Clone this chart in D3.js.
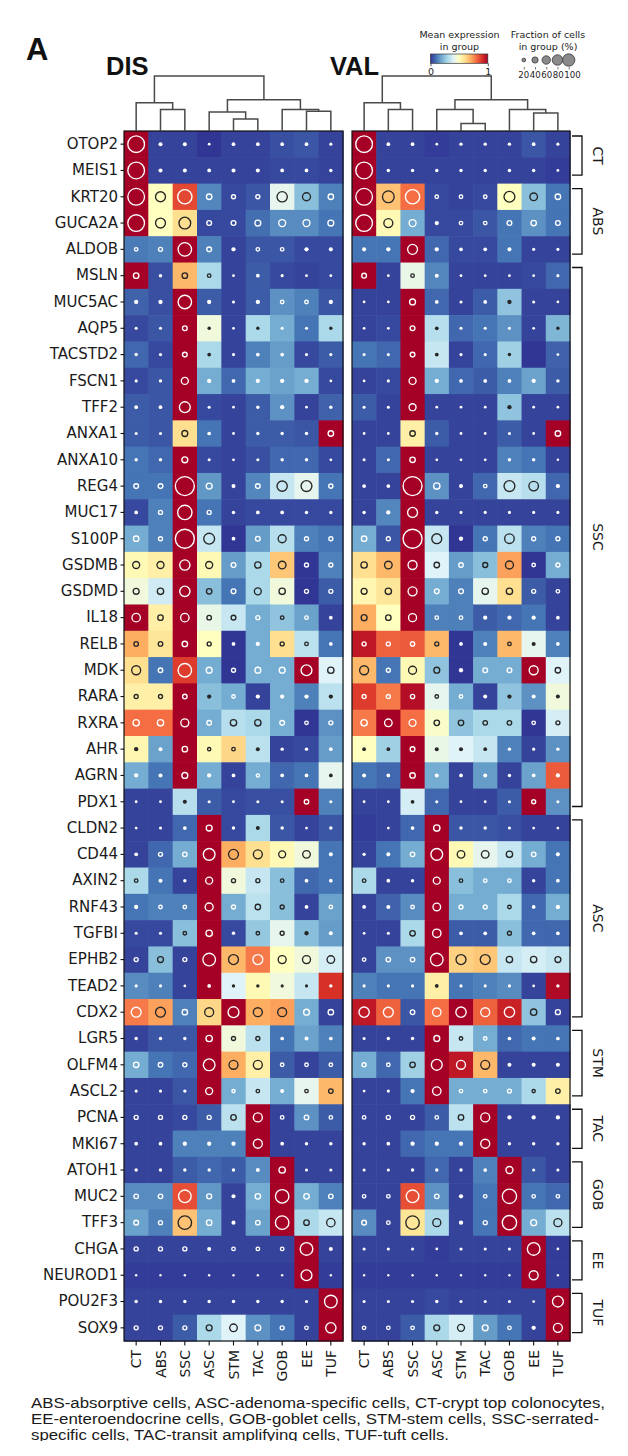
<!DOCTYPE html>
<html><head><meta charset="utf-8">
<script src="https://cdn.jsdelivr.net/npm/d3@7"></script>
<style>body{margin:0;background:#fff}</style>
</head><body>
<svg id="chart" width="628" height="1456" xmlns="http://www.w3.org/2000/svg"></svg>
<script>
// ---------------- DATA ----------------
const genes = ["OTOP2","MEIS1","KRT20","GUCA2A","ALDOB","MSLN","MUC5AC","AQP5","TACSTD2","FSCN1","TFF2","ANXA1","ANXA10","REG4","MUC17","S100P","GSDMB","GSDMD","IL18","RELB","MDK","RARA","RXRA","AHR","AGRN","PDX1","CLDN2","CD44","AXIN2","RNF43","TGFBI","EPHB2","TEAD2","CDX2","LGR5","OLFM4","ASCL2","PCNA","MKI67","ATOH1","MUC2","TFF3","CHGA","NEUROD1","POU2F3","SOX9"];
const cellTypes = ["CT","ABS","SSC","ASC","STM","TAC","GOB","EE","TUF"];
const groupLabels = ["CT","ABS","SSC","ASC","STM","TAC","GOB","EE","TUF"];
const groupFirst = ["OTOP2","KRT20","MSLN","CLDN2","LGR5","PCNA","ATOH1","CHGA","POU2F3"];
const groupLast  = ["MEIS1","ALDOB","PDX1","CDX2","ASCL2","MKI67","TFF3","NEUROD1","SOX9"];
const panelTitles = ["DIS","VAL"];

// mean expression (scaled 0-1), DIS
const disExpr = [
[1,0.02,0.02,0,0.02,0.02,0.04,0.05,0.02],
[1,0.02,0.02,0.02,0.02,0.02,0.03,0.03,0.02],
[1,0.5,0.86,0.13,0.03,0.05,0.42,0.24,0.12],
[1,0.5,0.6,0.03,0.03,0.09,0.14,0.14,0.1],
[0.11,0.12,1,0.12,0.02,0.05,0.05,0.03,0.03],
[1,0.04,0.68,0.3,0.02,0.06,0.03,0.02,0.03],
[0.07,0.04,1,0.06,0.02,0.06,0.15,0.12,0.05],
[0.03,0.05,1,0.45,0.02,0.3,0.2,0.1,0.3],
[0.08,0.03,1,0.3,0.02,0.12,0.17,0.03,0.06],
[0.03,0.05,1,0.2,0.08,0.2,0.18,0.2,0.03],
[0.06,0.05,1,0.03,0.02,0.06,0.15,0.02,0.07],
[0.06,0.05,0.6,0.1,0.02,0.06,0.06,0.05,1],
[0.1,0.08,1,0.03,0.02,0.04,0.08,0.08,0.03],
[0.1,0.1,1,0.16,0.02,0.13,0.35,0.42,0.1],
[0.03,0.12,1,0.1,0.02,0.03,0.03,0.03,0.03],
[0.2,0.12,1,0.35,0,0.17,0.32,0.12,0.1],
[0.52,0.55,1,0.52,0.17,0.3,0.65,0,0.12],
[0.45,0.37,1,0.24,0.1,0.3,0.45,0,0.06],
[1,0.55,1,0.43,0.35,0.2,0.25,0.18,0.02],
[0.7,0.58,1,0.5,0,0.2,0.6,0.33,0.1],
[0.6,0.1,0.88,0.2,0,0.2,0.2,1,0.4],
[0.55,0.55,1,0.24,0.2,0.02,0.2,0.12,0.33],
[0.8,0.8,1,0.2,0.32,0.3,0.2,0,0.15],
[0.53,0.18,1,0.52,0.62,0.33,0.02,0.03,0.17],
[0.2,0.1,1,0.2,0.02,0.2,0.08,0.1,0.42],
[0.02,0.02,0.32,0.06,0.03,0.04,0.04,1,0.12],
[0.02,0.02,0.08,1,0.03,0.3,0.05,0.02,0.05],
[0.02,0.08,0.2,1,0.7,0.6,0.52,0.45,0.1],
[0.3,0.1,0.02,1,0.45,0.35,0.24,0.08,0.1],
[0.1,0.12,0.12,1,0.2,0.33,0.24,0.02,0.18],
[0.03,0.03,0.24,1,0.03,0.26,0.42,0.24,0.17],
[0.02,0.24,0.02,1,0.68,0.78,0.5,0.45,0.38],
[0.14,0.12,0.02,1,0.4,0.52,0.45,0.35,0.9],
[0.78,0.72,0.12,0.62,1,0.7,0.72,0.2,0.02],
[0.02,0.05,0.05,1,0.45,0.33,0.1,0.18,0.12],
[0.2,0.1,0.08,1,0.7,0.55,0.06,0.02,0.06],
[0.02,0.02,0.05,1,0.2,0.35,0.2,0.42,0.68],
[0.02,0.02,0.03,0.06,0.33,1,0.02,0.15,0.06],
[0.02,0.02,0.12,0.12,0.12,1,0.02,0.02,0.02],
[0.02,0.02,0.06,0.08,0.06,0.14,1,0.02,0.02],
[0.14,0.14,0.85,0.16,0.02,0.2,1,0.2,0.12],
[0.18,0.12,0.66,0.2,0.02,0.18,1,0.3,0.35],
[0.02,0.02,0.02,0.02,0.02,0.02,0.02,1,0.02],
[0.01,0.01,0.01,0.01,0.01,0.01,0.01,1,0.01],
[0.02,0.02,0.02,0.02,0.02,0.02,0.02,0.02,1],
[0.02,0.02,0.06,0.3,0.4,0.15,0.1,0.02,1]
];
// fraction of cells in group (%), DIS
const disFrac = [
[80,7,7,3,6,6,6,6,4],
[80,7,7,6,7,7,6,6,5],
[80,40,65,18,12,12,42,30,18],
[80,40,50,15,15,20,25,25,20],
[10,12,60,15,8,10,10,8,7],
[18,5,18,10,3,6,4,3,3],
[8,8,60,8,4,8,10,10,8],
[4,4,15,5,3,5,4,4,5],
[5,4,15,6,4,6,6,4,4],
[4,5,25,8,6,8,8,8,3],
[6,6,45,4,3,5,8,3,5],
[4,4,20,6,3,5,5,5,18],
[5,5,20,4,3,4,5,5,3],
[15,15,95,20,7,15,42,45,13],
[6,12,65,12,5,6,6,5,5],
[18,12,95,45,6,15,30,12,12],
[25,25,42,25,15,22,28,12,12],
[20,22,42,18,15,25,22,12,12],
[32,18,32,14,15,12,10,10,6],
[14,14,18,12,6,8,12,10,6],
[35,14,60,20,12,20,20,45,22],
[12,12,14,8,10,8,8,8,8],
[22,22,30,15,22,22,15,10,12],
[8,7,18,9,10,7,5,5,6],
[8,7,20,8,6,9,6,6,6],
[3,3,7,4,3,4,4,14,4],
[3,4,6,20,5,7,5,3,5],
[6,12,14,50,40,35,25,28,7],
[10,7,5,25,12,12,10,6,6],
[8,10,10,30,12,18,12,6,10],
[4,4,10,22,5,10,12,8,7],
[12,20,12,55,40,40,30,30,28],
[4,4,3,6,5,5,4,4,5],
[40,40,18,35,45,35,35,20,18],
[5,5,5,22,12,12,6,7,6],
[18,14,12,50,35,35,10,10,10],
[4,4,5,25,9,10,7,10,14],
[12,12,12,12,18,35,10,14,10],
[6,6,8,8,8,35,6,5,5],
[5,5,5,5,5,7,22,4,4],
[14,14,55,16,7,18,60,18,14],
[15,12,60,18,7,14,60,18,32],
[12,12,12,7,10,10,10,55,7],
[2,2,2,2,2,2,2,45,2],
[5,5,5,5,5,5,5,4,55],
[12,12,12,20,28,20,12,10,42]
];
// mean expression (scaled 0-1), VAL
const valExpr = [
[1,0.02,0.02,0.01,0.02,0.02,0.02,0.05,0.02],
[1,0.02,0.02,0.02,0.02,0.02,0.02,0.02,0.01],
[1,0.66,0.8,0.03,0.02,0.03,0.5,0.24,0.1],
[1,0.52,0.2,0.03,0.03,0.05,0.1,0.15,0.1],
[0.1,0.1,1,0.08,0.03,0.03,0.1,0.02,0.02],
[1,0.02,0.43,0.13,0.02,0.02,0.02,0.03,0.08],
[0.02,0.02,1,0.08,0.02,0.06,0.25,0.02,0.02],
[0.02,0.03,1,0.32,0.08,0.1,0.15,0.02,0.22],
[0.1,0.08,1,0.35,0.02,0.08,0.28,0,0.07],
[0.02,0.03,1,0.2,0.08,0.06,0.12,0.18,0.06],
[0.06,0.02,1,0.02,0.02,0.02,0.25,0.02,0.02],
[0.02,0.02,0.55,0.06,0.02,0.02,0.06,0.02,1],
[0.02,0.08,1,0.02,0.02,0.02,0.12,0.1,0.02],
[0.02,0.02,1,0.15,0.02,0.08,0.35,0.32,0.08],
[0.02,0.13,1,0.02,0.02,0.02,0.02,0.02,0.02],
[0.2,0.05,1,0.35,0,0.1,0.33,0.12,0.1],
[0.6,0.68,1,0.4,0.17,0.24,0.72,0,0.2],
[0.53,0.58,1,0.2,0.12,0.42,0.6,0.06,0.02],
[0.7,0.5,1,0.12,0.12,0.06,0.08,0.1,0.02],
[0.95,0.82,0.83,0.68,0,0.12,0.68,0.42,0.12],
[0.68,0.1,0.52,0.25,0,0.2,0.2,1,0.4],
[0.88,0.78,0.97,0.42,0.2,0.02,0.25,0.15,0.45],
[0.78,1,0.8,0.48,0.25,0.3,0.3,0,0.38],
[0.5,0.28,1,0.43,0.4,0.35,0.12,0.02,0.15],
[0.1,0.08,1,0.2,0.02,0.17,0.02,0.18,0.83],
[0.02,0.02,0.38,0.08,0.02,0.02,0.06,1,0.15],
[0.01,0.02,0.08,1,0.05,0.05,0.04,0.02,0.02],
[0.02,0.1,0.2,1,0.52,0.42,0.35,0.2,0.1],
[0.3,0.02,0.02,1,0.24,0.2,0.2,0.02,0.1],
[0.02,0.07,0.14,1,0.2,0.2,0.3,0.08,0.2],
[0.02,0.02,0.3,1,0.06,0.06,0.24,0.08,0.08],
[0.02,0.15,0.15,1,0.63,0.65,0.35,0.38,0.35],
[0.12,0.1,0.1,0.55,0.1,0.12,0.14,0.02,0.98],
[0.95,0.82,0.05,0.8,1,0.82,0.93,0.25,0.02],
[0.02,0.02,0.02,1,0.35,0.2,0.08,0.1,0.1],
[0.2,0.08,0.28,1,0.95,0.68,0.02,0.02,0.02],
[0.02,0.02,0.1,1,0.2,0.2,0.2,0.3,0.55],
[0.02,0.02,0.02,0.06,0.33,1,0.02,0.02,0.02],
[0.02,0.02,0.08,0.1,0.1,1,0.02,0.02,0.02],
[0.02,0.02,0.02,0.08,0.02,0.12,1,0.05,0.02],
[0.02,0.02,0.85,0.15,0.02,0.1,1,0.1,0.08],
[0.14,0.02,0.58,0.3,0.02,0.1,1,0.2,0.33],
[0.02,0.02,0.02,0.01,0.02,0.02,0.02,1,0.01],
[0.01,0.01,0.01,0.01,0.01,0.01,0.01,1,0.01],
[0.02,0.02,0.02,0.03,0.02,0.02,0.02,0.02,1],
[0.02,0.02,0.06,0.3,0.38,0.17,0.1,0.02,1]
];
// fraction of cells in group (%), VAL
const valFrac = [
[80,6,6,3,5,5,5,6,4],
[80,5,5,5,5,5,5,5,3],
[80,50,65,10,10,10,45,28,18],
[80,35,25,8,10,10,15,18,15],
[7,8,40,8,6,6,7,4,4],
[15,3,10,7,3,3,3,3,4],
[3,3,20,6,4,6,8,4,3],
[3,3,15,6,4,4,4,3,5],
[4,4,15,6,4,4,5,0,3],
[3,4,25,8,6,6,6,8,5],
[4,4,25,3,3,3,8,3,3],
[3,3,18,5,3,3,4,3,18],
[4,4,18,3,3,3,5,5,2],
[6,6,95,22,7,10,45,38,8],
[5,8,40,5,4,4,4,4,4],
[18,12,95,40,8,12,38,12,12],
[22,28,35,18,14,16,30,10,12],
[20,22,35,15,15,22,22,12,10],
[20,18,30,10,10,8,8,8,6],
[12,12,13,12,6,7,10,7,6],
[35,12,30,20,8,15,15,35,18],
[12,12,13,10,10,7,8,7,7],
[22,28,25,18,18,14,14,10,12],
[6,6,15,7,7,6,5,4,5],
[7,6,18,7,6,7,5,6,8],
[3,3,6,4,3,3,4,12,4],
[0,3,6,22,5,5,4,3,3],
[5,7,14,50,28,28,22,14,7],
[10,6,5,25,10,10,10,5,6],
[6,7,10,28,12,12,10,6,8],
[3,4,18,32,6,6,12,6,6],
[10,14,14,55,40,40,22,22,20],
[4,4,4,6,4,4,4,3,5],
[42,40,14,32,42,35,42,22,16],
[4,5,5,20,10,10,6,7,6],
[12,10,18,45,35,35,7,7,7],
[3,4,8,32,10,10,12,9,14],
[10,12,12,10,18,35,8,8,8],
[5,6,8,8,8,35,5,5,5],
[4,4,5,5,5,6,25,4,4],
[10,10,55,14,8,10,65,10,10],
[15,10,60,30,8,12,65,20,30],
[4,4,4,3,4,4,4,55,3],
[2,2,2,2,2,2,2,35,2],
[4,4,4,5,4,4,4,3,45],
[10,10,10,20,25,20,10,8,35]
];
// dendrograms: [height, left, right]
const disTree = [1.0, [0.515, "CT", [0.39, "ABS", "SSC"]], [0.566, [0.345, "ASC", [0.22, "STM", "TAC"]], [0.39, "GOB", [0.358, "EE", "TUF"]]]];
const valTree = [1.0, [0.515, "CT", [0.39, "ABS", "SSC"]], [0.566, [0.39, "ASC", [0.138, "STM", "TAC"]], [0.39, "GOB", [0.326, "EE", "TUF"]]]];
const colorTicks = [0, 1];
const sizeTicks = [20, 40, 60, 80, 100];
const caption = [
 "ABS-absorptive cells, ASC-adenoma-specific cells, CT-crypt top colonocytes,",
 "EE-enteroendocrine cells, GOB-goblet cells, STM-stem cells, SSC-serrated-",
 "specific cells, TAC-transit amplifying cells, TUF-tuft cells."
];
const rdylbu = ["#313695","#4575b4","#74add1","#abd9e9","#e0f3f8","#ffffbf","#fee090","#fdae61","#f46d43","#d73027","#a50026"];

// ---------------- DRAW ----------------
const svg = d3.select("#chart");
const DV = "'DejaVu Sans', sans-serif";
const AR = "'Liberation Sans', Arial, sans-serif";

const color = d3.scaleLinear().domain(d3.range(11).map(i => i / 10)).range(rdylbu).interpolate(d3.interpolateRgb).clamp(true);
function lum(c) {
  const r = d3.rgb(c);
  const f = v => { v /= 255; return v <= 0.03928 ? v / 12.92 : Math.pow((v + 0.055) / 1.055, 2.4); };
  return 0.2126 * f(r.r) + 0.7152 * f(r.g) + 0.0722 * f(r.b);
}
const y = d3.scaleBand().domain(genes).range([131, 1341]);
const step = y.step();
const size = d3.scalePow().exponent(0.75).domain([0, 100]).range([0, 9.87]);
const yDend = d3.scaleLinear().domain([0, 1]).range([131, 76]);
const LW = 1.35;

function drawPanel(x, expr, frac, tree, title, titleX, showGenes) {
  const g = svg.append("g");
  const cells = [];
  genes.forEach((gn, i) => cellTypes.forEach((ct, j) => cells.push({ gn, ct, v: expr[i][j], f: frac[i][j] })));
  g.selectAll("rect.cell").data(cells).join("rect").attr("class", "cell")
    .attr("x", d => x(d.ct)).attr("y", d => y(d.gn))
    .attr("width", x.bandwidth() + 0.6).attr("height", step + 0.6)
    .attr("fill", d => color(d.v));
  g.selectAll("circle.dot").data(cells.filter(d => d.f > 0)).join("circle").attr("class", "dot")
    .attr("cx", d => x(d.ct) + x.bandwidth() / 2).attr("cy", d => y(d.gn) + step / 2)
    .each(function (d) {
      const r = size(d.f);
      const ec = lum(color(d.v)) > 0.408 ? "#262626" : "#ffffff";
      const s = d3.select(this);
      if (r < LW * 1.2) s.attr("r", r + LW / 2).attr("fill", ec).attr("stroke", "none");
      else s.attr("r", r).attr("fill", "none").attr("stroke", ec).attr("stroke-width", LW);
    });
  const [x0, x1] = x.range();
  g.append("rect").attr("x", x0).attr("y", 131).attr("width", x1 - x0).attr("height", 1341 - 131)
    .attr("fill", "none").attr("stroke", "#111").attr("stroke-width", 1.2);
  const ax = g.append("g").attr("transform", "translate(0,1341)")
    .call(d3.axisBottom(x).tickSize(4.5).tickPadding(5));
  ax.select(".domain").remove();
  ax.selectAll(".tick line").attr("stroke", "#111").attr("stroke-width", 1.1);
  ax.selectAll(".tick text").attr("transform", "rotate(-90)").attr("text-anchor", "end")
    .attr("x", -9).attr("y", 0).attr("dy", "0.36em")
    .style("font-family", DV).style("font-size", "14px").attr("fill", "#1a1a1a");
  if (showGenes) {
    const ay = g.append("g").attr("transform", `translate(${x0},0)`)
      .call(d3.axisLeft(y).tickSize(3.5).tickPadding(2.5));
    ay.select(".domain").remove();
    ay.selectAll(".tick line").attr("stroke", "#111").attr("stroke-width", 1.1);
    ay.selectAll(".tick text").style("font-family", DV).style("font-size", "15px").attr("fill", "#1a1a1a");
  }
  const segs = [];
  function walk(node) {
    if (typeof node === "string") return { x: x(node) + x.bandwidth() / 2, h: 0 };
    const [h, a, b] = node;
    const A = walk(a), B = walk(b);
    segs.push(`M${A.x},${yDend(A.h)}V${yDend(h)}H${B.x}V${yDend(B.h)}`);
    return { x: (A.x + B.x) / 2, h };
  }
  walk(tree);
  g.selectAll("path.dend").data(segs).join("path").attr("class", "dend").attr("d", d => d)
    .attr("fill", "none").attr("stroke", "#4a4a4a").attr("stroke-width", 1.5);
  svg.append("text").attr("x", titleX).attr("y", 75).text(title)
    .style("font-family", AR).style("font-weight", "bold").style("font-size", "25.5px").attr("fill", "#111");
}

const xDis = d3.scaleBand().domain(cellTypes).range([124, 343]);
const xVal = d3.scaleBand().domain(cellTypes).range([352, 570]);
drawPanel(xDis, disExpr, disFrac, disTree, panelTitles[0], 106, true);
drawPanel(xVal, valExpr, valFrac, valTree, panelTitles[1], 330, false);

// group brackets
const br = svg.append("g");
groupLabels.forEach((lab, i) => {
  const top = y(groupFirst[i]) + 0.19 * step;
  const bot = y(groupLast[i]) + 0.68 * step;
  br.append("path").attr("d", `M572,${top}H582V${bot}H572`).attr("fill", "none")
    .attr("stroke", "#111").attr("stroke-width", 1.3);
  br.append("text").attr("transform", `translate(598,${(top + bot) / 2}) rotate(90)`)
    .attr("text-anchor", "middle").attr("dy", "0.36em").text(lab)
    .style("font-family", DV).style("font-size", "14px").attr("fill", "#1a1a1a");
});

// panel label
svg.append("text").attr("x", 26).attr("y", 60).text("A")
  .style("font-family", AR).style("font-weight", "bold").style("font-size", "31px").attr("fill", "#111");

// colour legend
const lg = svg.append("g");
const tsty = s => s.style("font-family", DV).style("font-size", "9.5px").attr("fill", "#222").attr("text-anchor", "middle");
lg.append("text").attr("x", 459.5).attr("y", 37.5).text("Mean expression").call(tsty);
lg.append("text").attr("x", 459.5).attr("y", 49.5).text("in group").call(tsty);
const defs = svg.append("defs");
const grad = defs.append("linearGradient").attr("id", "cbar");
d3.range(0, 1.0001, 0.05).forEach(t => grad.append("stop").attr("offset", t).attr("stop-color", color(t)));
const cb = d3.scaleLinear().domain([0, 1]).range([430.5, 487.8]);
lg.append("rect").attr("x", cb(0)).attr("y", 54).attr("width", cb(1) - cb(0)).attr("height", 9.3)
  .attr("fill", "url(#cbar)").attr("stroke", "#333").attr("stroke-width", 0.7);
const cax = lg.append("g").attr("transform", "translate(0,63.3)").call(d3.axisBottom(cb).tickValues(colorTicks).tickFormat(d3.format("d")).tickSize(3).tickPadding(1.5));
cax.select(".domain").remove();
cax.selectAll(".tick line").attr("stroke", "#333").attr("stroke-width", 0.8);
cax.selectAll(".tick text").style("font-family", DV).style("font-size", "9.5px").attr("fill", "#222");

// size legend
lg.append("text").attr("x", 548).attr("y", 37.5).text("Fraction of cells").call(tsty);
lg.append("text").attr("x", 548).attr("y", 49.5).text("in group (%)").call(tsty);
const sx = d3.scalePoint().domain(sizeTicks).range([523.8, 568.7]);
const lsize = d3.scalePow().exponent(0.75).domain([0, 100]).range([0, 6.2]);
lg.selectAll("circle.leg").data(sizeTicks).join("circle").attr("class", "leg")
  .attr("cx", d => sx(d)).attr("cy", 60).attr("r", d => lsize(d))
  .attr("fill", "#8a8a8a").attr("stroke", "#3a3a3a").attr("stroke-width", 0.8);
const sax = lg.append("g").attr("transform", "translate(0,67)").call(d3.axisBottom(sx).tickSize(2.5).tickPadding(2));
sax.select(".domain").remove();
sax.selectAll(".tick line").attr("stroke", "#555").attr("stroke-width", 0.8);
sax.selectAll(".tick text").style("font-family", DV).style("font-size", "8.6px").attr("fill", "#222")
  .attr("dx", (d, i) => i === sizeTicks.length - 1 ? 3.2 : (i - 2) * 0.25);

// caption
defs.append("clipPath").attr("id", "capclip").append("rect").attr("x", 0).attr("y", 1380).attr("width", 628).attr("height", 61);
const capWidths = [574, 568, 418];
const cap = svg.append("g").attr("clip-path", "url(#capclip)");
cap.selectAll("text").data(caption).join("text")
  .attr("x", 31).attr("y", (d, i) => 1407.5 + i * 16.3).text(d => d)
  .attr("textLength", (d, i) => capWidths[i]).attr("lengthAdjust", "spacingAndGlyphs")
  .style("font-family", AR).style("font-size", "15.5px").attr("fill", "#1a1a1a");
</script>
</body></html>
